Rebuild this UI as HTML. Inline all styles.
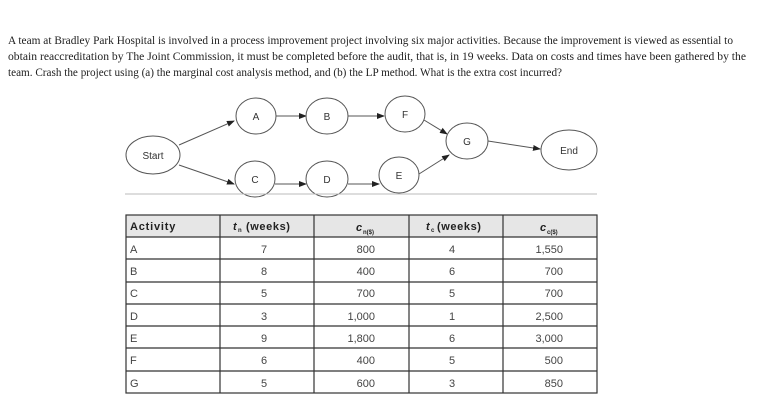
<!DOCTYPE html>
<html><head><meta charset="utf-8"><style>
html,body{margin:0;padding:0;background:#fff;width:777px;height:405px;overflow:hidden}
</style></head><body>
<svg width="777" height="405" viewBox="0 0 777 405" xmlns="http://www.w3.org/2000/svg">
<defs><marker id="ar" markerWidth="8" markerHeight="8" refX="7" refY="4" orient="auto" markerUnits="userSpaceOnUse"><path d="M0,1 L8,4 L0,7 z" fill="#222"/></marker></defs>
<g font-family="Liberation Serif, serif" font-size="11.5" fill="#222">
<text x="8" y="44" textLength="725" lengthAdjust="spacingAndGlyphs">A team at Bradley Park Hospital is involved in a process improvement project involving six major activities. Because the improvement is viewed as essential to</text>
<text x="8" y="60" textLength="738" lengthAdjust="spacingAndGlyphs">obtain reaccreditation by The Joint Commission, it must be completed before the audit, that is, in 19 weeks. Data on costs and times have been gathered by the</text>
<text x="8" y="76" textLength="554" lengthAdjust="spacingAndGlyphs">team. Crash the project using (a) the marginal cost analysis method, and (b) the LP method. What is the extra cost incurred?</text>
</g>
<g stroke="#555" stroke-width="1" fill="none">
<line x1="179" y1="145" x2="234" y2="121" marker-end="url(#ar)"/>
<line x1="179" y1="165" x2="234" y2="184" marker-end="url(#ar)"/>
<line x1="276" y1="116" x2="306" y2="116" marker-end="url(#ar)"/>
<line x1="348" y1="116" x2="384" y2="116" marker-end="url(#ar)"/>
<line x1="424" y1="120" x2="447" y2="134" marker-end="url(#ar)"/>
<line x1="275" y1="184" x2="306" y2="184" marker-end="url(#ar)"/>
<line x1="348" y1="184" x2="379" y2="184" marker-end="url(#ar)"/>
<line x1="419" y1="174" x2="449" y2="155" marker-end="url(#ar)"/>
<line x1="488" y1="141" x2="540" y2="149" marker-end="url(#ar)"/>
<ellipse cx="153" cy="155" rx="27" ry="19"/>
<ellipse cx="256" cy="116" rx="20" ry="18"/>
<ellipse cx="327" cy="116" rx="21" ry="18"/>
<ellipse cx="405" cy="114" rx="20" ry="18"/>
<ellipse cx="467" cy="141" rx="21" ry="18"/>
<ellipse cx="569" cy="150" rx="28" ry="20"/>
<ellipse cx="255" cy="179" rx="20" ry="18"/>
<ellipse cx="327" cy="179" rx="21" ry="18"/>
<ellipse cx="399" cy="175" rx="20" ry="18"/>
</g>
<line x1="125" y1="194" x2="597" y2="194" stroke="#bbb"/>
<g font-family="Liberation Sans, sans-serif" font-size="10" fill="#333" text-anchor="middle">
<text x="153" y="159">Start</text><text x="256" y="120">A</text><text x="327" y="120">B</text><text x="405" y="118">F</text><text x="467" y="145">G</text><text x="569" y="154">End</text><text x="255" y="183">C</text><text x="327" y="183">D</text><text x="399" y="179">E</text>
</g>
<g>
<rect x="126" y="215" width="471" height="22" fill="#e6e6e6"/>
<g stroke="#333" stroke-width="1.2" fill="none">
<rect x="126" y="215" width="471" height="178"/>
<line x1="220" y1="215" x2="220" y2="393"/><line x1="314" y1="215" x2="314" y2="393"/><line x1="409" y1="215" x2="409" y2="393"/><line x1="503" y1="215" x2="503" y2="393"/>
<line x1="126" y1="237" x2="597" y2="237"/><line x1="126" y1="259" x2="597" y2="259"/><line x1="126" y1="282" x2="597" y2="282"/><line x1="126" y1="304" x2="597" y2="304"/><line x1="126" y1="326" x2="597" y2="326"/><line x1="126" y1="348" x2="597" y2="348"/><line x1="126" y1="371" x2="597" y2="371"/>
</g>
<g font-family="Liberation Sans, sans-serif" font-size="11" fill="#222" font-weight="bold">
<text x="130" y="230" letter-spacing="0.8">Activity</text>
<text x="233" y="230" font-style="italic">t</text><text x="238" y="232" font-size="6">n</text><text x="246" y="230" letter-spacing="0.6">(weeks)</text>
<text x="356" y="231" font-style="italic">c</text><text x="363" y="234" font-size="6">n($)</text>
<text x="426" y="230" font-style="italic">t</text><text x="431" y="232" font-size="6">c</text><text x="437" y="230" letter-spacing="0.6">(weeks)</text>
<text x="540" y="231" font-style="italic">c</text><text x="547" y="234" font-size="6">c($)</text>
</g>
<g font-family="Liberation Sans, sans-serif" font-size="11" fill="#444">
<g><text x="130" y="253">A</text><text x="130" y="275">B</text><text x="130" y="297">C</text><text x="130" y="320">D</text><text x="130" y="342">E</text><text x="130" y="364">F</text><text x="130" y="387">G</text></g>
<g text-anchor="middle"><text x="264" y="253">7</text><text x="264" y="275">8</text><text x="264" y="297">5</text><text x="264" y="320">3</text><text x="264" y="342">9</text><text x="264" y="364">6</text><text x="264" y="387">5</text>
<text x="452" y="253">4</text><text x="452" y="275">6</text><text x="452" y="297">5</text><text x="452" y="320">1</text><text x="452" y="342">6</text><text x="452" y="364">5</text><text x="452" y="387">3</text></g>
<g text-anchor="end"><text x="375" y="253">800</text><text x="375" y="275">400</text><text x="375" y="297">700</text><text x="375" y="320">1,000</text><text x="375" y="342">1,800</text><text x="375" y="364">400</text><text x="375" y="387">600</text>
<text x="563" y="253">1,550</text><text x="563" y="275">700</text><text x="563" y="297">700</text><text x="563" y="320">2,500</text><text x="563" y="342">3,000</text><text x="563" y="364">500</text><text x="563" y="387">850</text></g>
</g>
</g>
</svg>
</body></html>
